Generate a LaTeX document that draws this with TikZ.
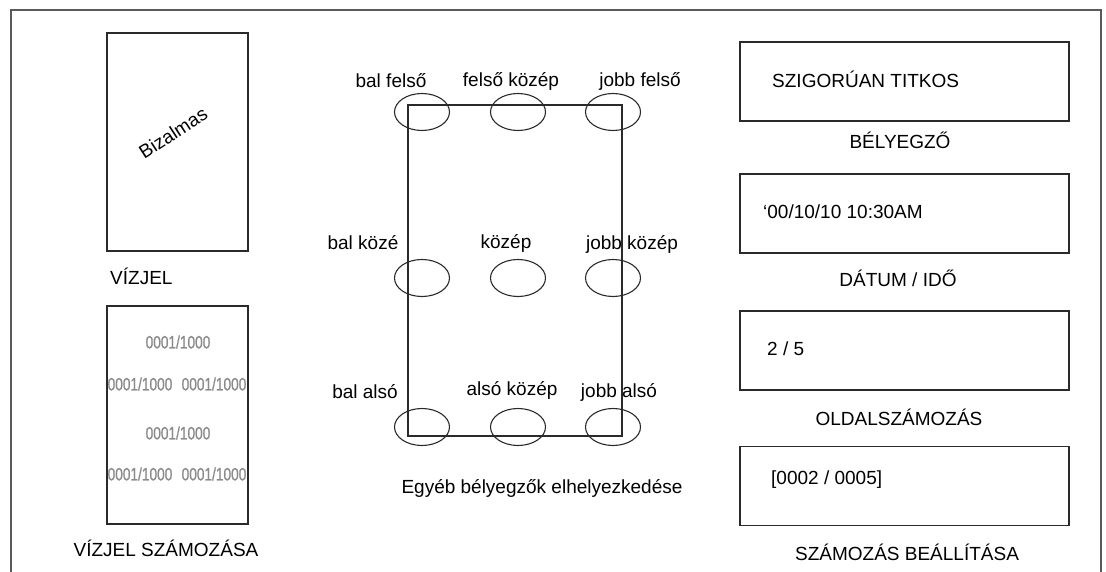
\documentclass[tikz,border=0pt]{standalone}
\usepackage{fontspec}
\setmainfont{Liberation Sans}
\newfontfamily\narrowfont[FakeStretch=0.76, FakeBold=0.8]{Liberation Sans}
\usetikzlibrary{shapes.geometric, positioning}
\definecolor{framegray}{HTML}{5A5A5A}
\definecolor{boxline}{HTML}{2A2A2A}
\definecolor{numgray}{HTML}{8A8A8A}

\begin{document}
\begin{tikzpicture}[x=1pt, y=-1pt,
  box/.style={draw=boxline, line width=1.2pt, inner sep=0pt},
  spot/.style={draw=boxline, line width=1.1pt, ellipse, minimum width=55pt, minimum height=37pt, inner sep=0pt},
  lbl/.style={font=\fontsize{19}{21}\selectfont, inner sep=0pt},
  num/.style={font=\narrowfont\fontsize{18}{20}\selectfont, text=numgray, inner sep=0pt},
]
\useasboundingbox (0,0) rectangle (1106,572);

% Frame
\draw[framegray, line width=1.4pt] (11,572) -- (11,10) -- (1101,10) -- (1101,572);

% === Watermark ===
\node[box, minimum width=141pt, minimum height=218pt] (wm) at (177.5,142) {};
\node[lbl, rotate=33] (wmtext) at (173,133) {Bizalmas};
\node[lbl, anchor=west] (wmcap) at (110,276) {VÍZJEL};

% === Watermark numbering ===
\node[box, minimum width=141pt, minimum height=218pt] (wn) at (177.5,415) {};
\node[num] (n1) at (178,342) {0001/1000};
\node[num] (n2) at (140,384) {0001/1000};
\node[num] (n3) at (214,384) {0001/1000};
\node[num] (n4) at (178,433) {0001/1000};
\node[num] (n5) at (140,474) {0001/1000};
\node[num] (n6) at (214,474) {0001/1000};
\node[lbl] (wncap) at (166,548) {VÍZJEL SZÁMOZÁSA};

% === Stamp positions ===
\node[box, minimum width=214pt, minimum height=331pt] (page) at (515,270.5) {};

\node[spot] (tl) at (422,112) {};
\node[spot] (tc) at (518,112) {};
\node[spot] (tr) at (613,112) {};
\node[spot] (ml) at (422,278) {};
\node[spot] (mc) at (518,278) {};
\node[spot] (mr) at (613,278) {};
\node[spot] (bl) at (422,427) {};
\node[spot] (bc) at (518,427) {};
\node[spot] (br) at (613,427) {};

\node[lbl] (tllbl) at (391,81) {bal felső};
\node[lbl] (tclbl) at (511,81) {felső közép};
\node[lbl] (trlbl) at (640,81) {jobb felső};
\node[lbl] (mllbl) at (363,243) {bal közé};
\node[lbl] (mclbl) at (506,243) {közép};
\node[lbl] (mrlbl) at (632,244) {jobb közép};
\node[lbl] (bllbl) at (365,392) {bal alsó};
\node[lbl] (bclbl) at (512,390) {alsó közép};
\node[lbl] (brlbl) at (619,392) {jobb alsó};
\node[lbl] (pagecap) at (542,488) {Egyéb bélyegzők elhelyezkedése};

% === Right column ===
\node[box, minimum width=329pt, minimum height=79pt] (stamp) at (904.5,81.5) {};
\node[lbl, anchor=west] (stamptext) at (772,79) {SZIGORÚAN TITKOS};
\node[lbl] (stampcap) at (900,140) {BÉLYEGZŐ};

\node[box, minimum width=329pt, minimum height=79pt] (date) at (904.5,213.5) {};
\node[lbl, anchor=west] (datetext) at (763,212) {‘00/10/10 10:30AM};
\node[lbl] (datecap) at (898,278) {DÁTUM / IDŐ};

\node[box, minimum width=329pt, minimum height=79pt] (pgnum) at (904.5,350.5) {};
\node[lbl, anchor=west] (pgnumtext) at (767,349) {2 / 5};
\node[lbl] (pgnumcap) at (899,417) {OLDALSZÁMOZÁS};

\node[box, minimum width=329pt, minimum height=79pt] (numset) at (904.5,486) {};
\node[lbl, anchor=west] (numsettext) at (771,480) {[0002 / 0005]};
\node[lbl] (numsetcap) at (907,552) {SZÁMOZÁS BEÁLLÍTÁSA};

\end{tikzpicture}
\end{document}
